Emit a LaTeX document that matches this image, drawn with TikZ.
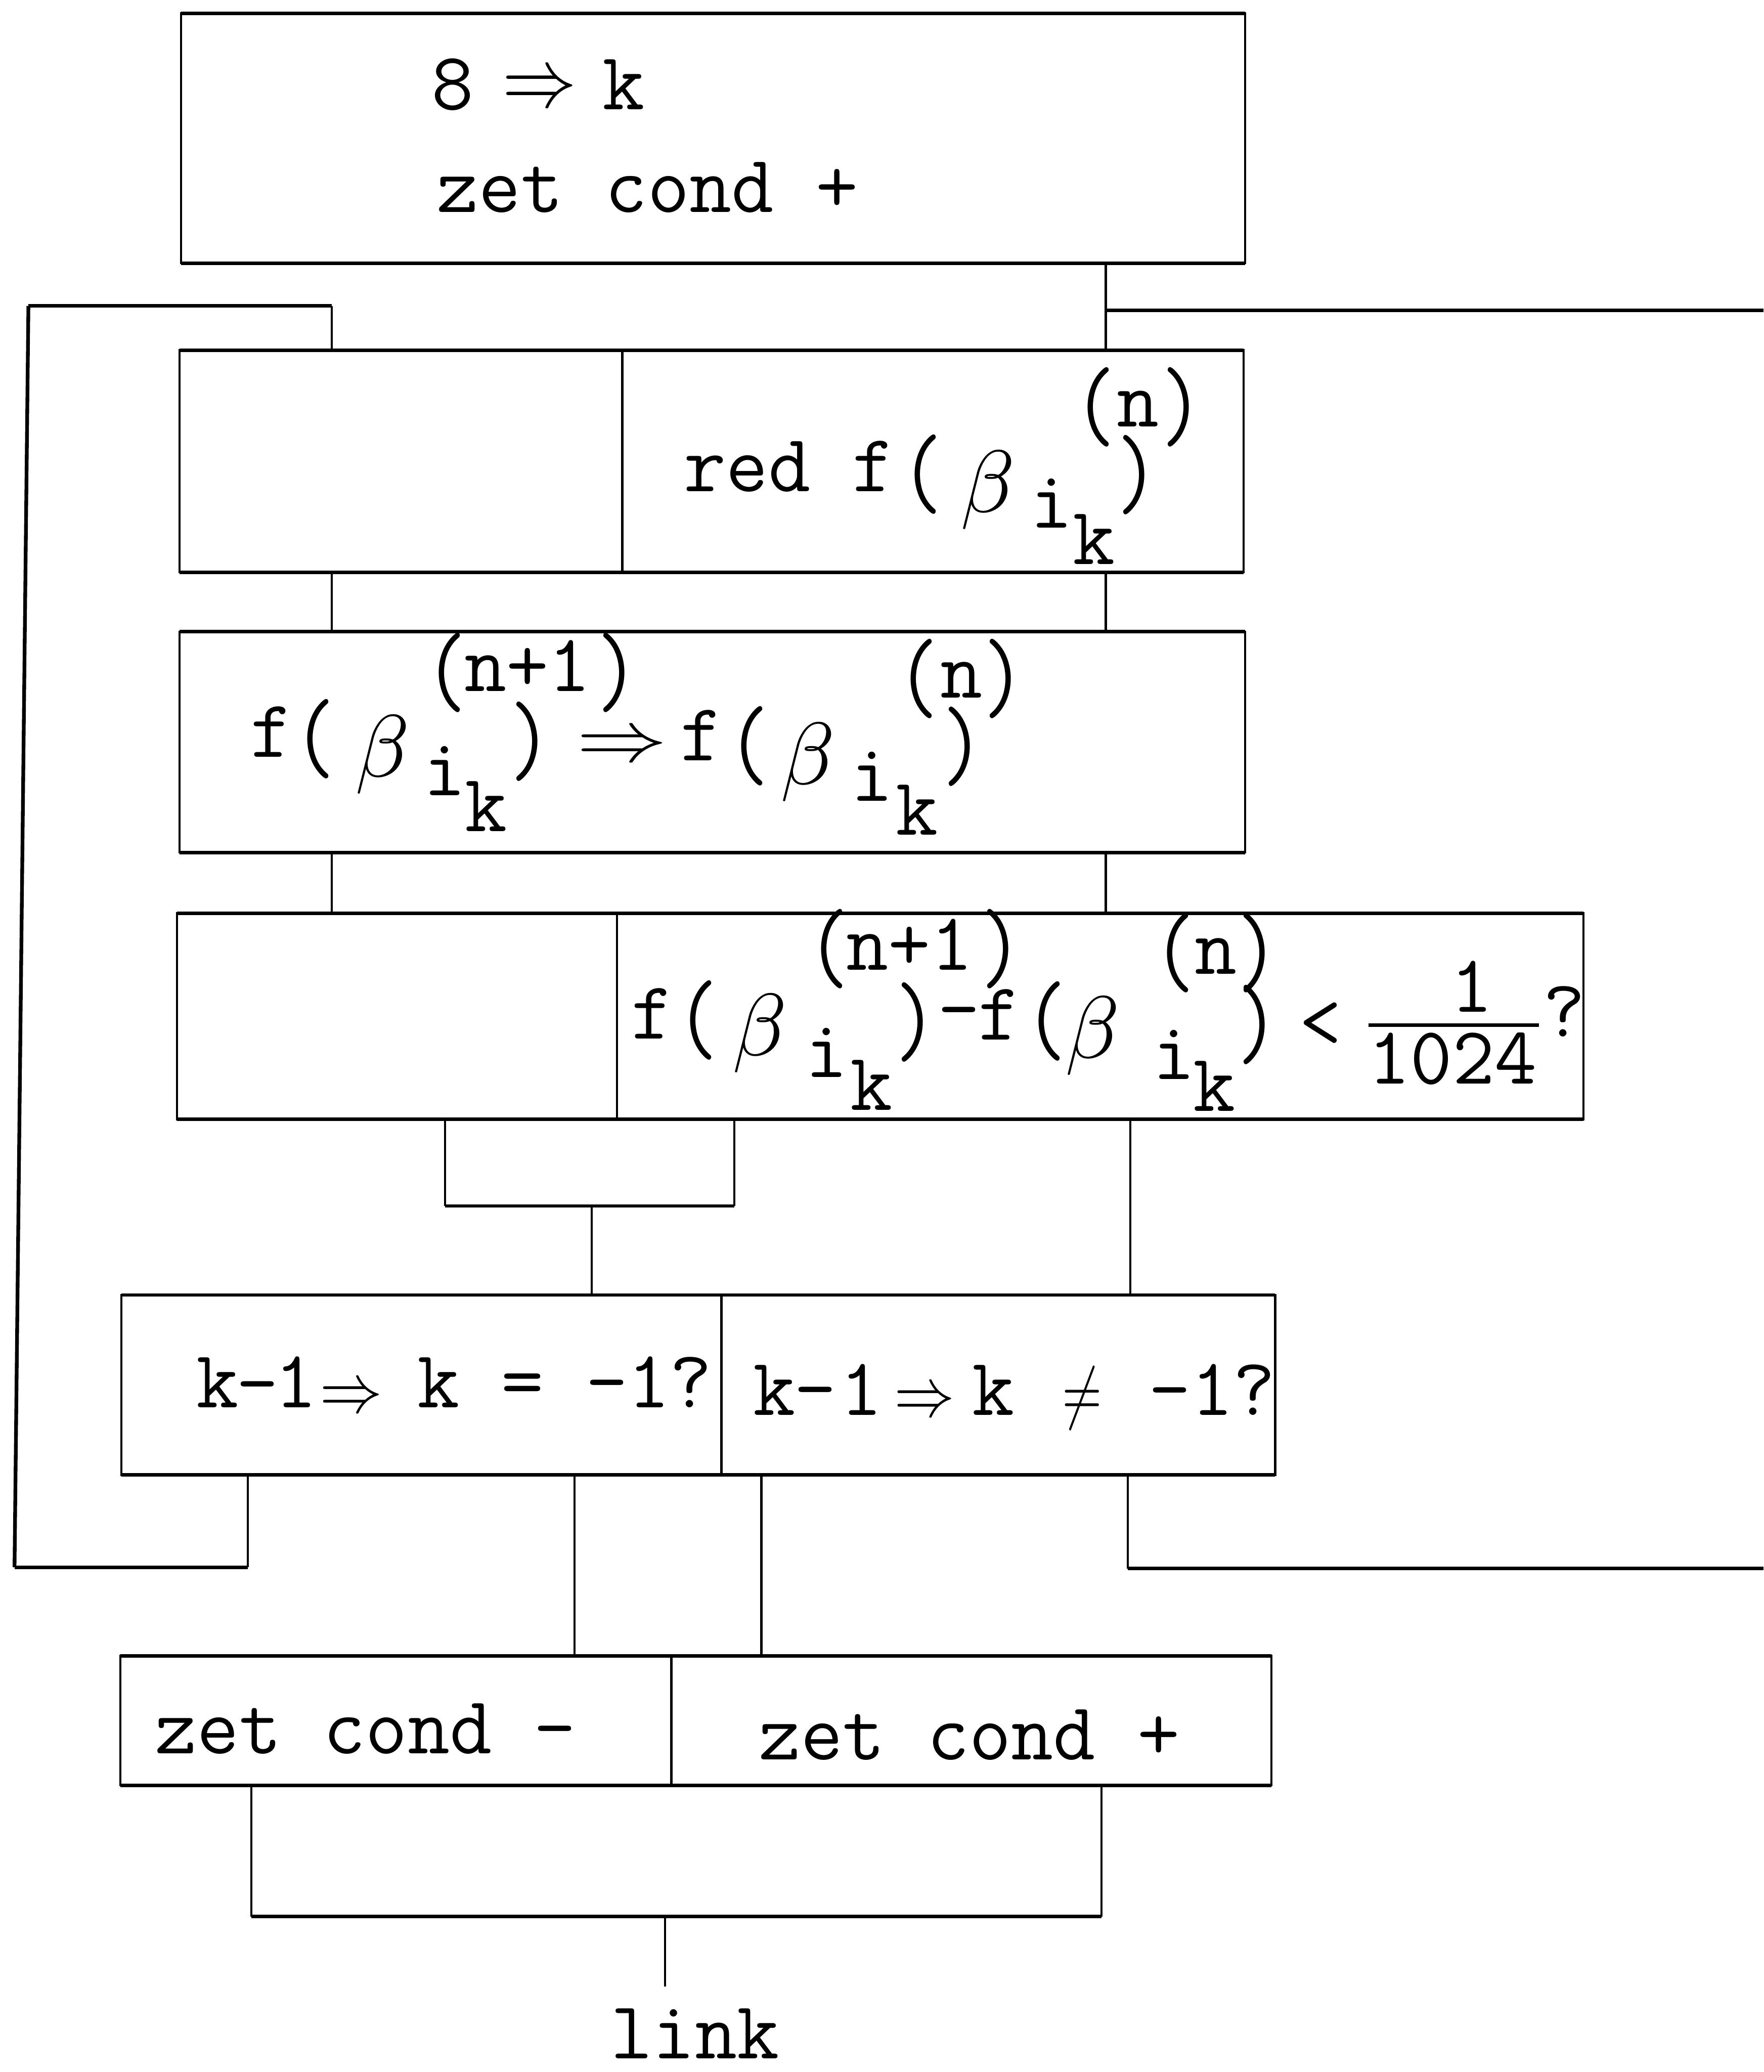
\documentclass[tikz,border=0pt]{standalone}
\usepackage{fontspec}
\usepackage{graphicx}
\newcommand\tws{\ttfamily\fontsize{17.6}{20}\selectfont}
% one glyph or word, placed at a point and named automatically
\newcounter{gl}
\newcommand\gl[3][]{\stepcounter{gl}\node[tw,#1] (g\arabic{gl}) at (#2) {#3};}
% tall typewriter parentheses
\newcommand\tlp{\scalebox{1}[1.25]{(}}
\newcommand\trp{\scalebox{1}[1.25]{)}}
\newcommand\bet{\scalebox{1.9}{$\beta$}}
\newcommand\darr[2]{\scalebox{#1}[#2]{$\Rightarrow$}}

\begin{document}
\begin{tikzpicture}[x=0.01cm,y=-0.01cm,
  tw/.style={font=\tws, inner sep=0pt, outer sep=0pt, anchor=base},
  pc/.style={anchor=center},
  mth/.style={font=\normalsize, anchor=center},
  box/.style={draw, line width=0.45pt, inner sep=0pt, outer sep=0pt, anchor=north west},
  hl/.style={line width=0.75pt},
  vl/.style={line width=0.45pt},
  loopl/.style={line width=0.8pt}]
\useasboundingbox (0,0) rectangle (1335,1568);

% ---- boxes ----
\node[box, minimum width=8.05cm, minimum height=1.89cm] (b1)  at (137,10)  {};
\node[box, minimum width=3.35cm, minimum height=1.68cm] (b2l) at (136,265) {};
\node[box, minimum width=4.70cm, minimum height=1.68cm] (b2r) at (471,265) {};
\node[box, minimum width=8.06cm, minimum height=1.67cm] (b3)  at (136,478) {};
\node[box, minimum width=3.33cm, minimum height=1.56cm] (b4l) at (134,691) {};
\node[box, minimum width=7.31cm, minimum height=1.56cm] (b4r) at (467,691) {};
\node[box, minimum width=4.54cm, minimum height=1.36cm] (b5l) at (92,980)  {};
\node[box, minimum width=4.19cm, minimum height=1.36cm] (b5r) at (546,980) {};
\node[box, minimum width=4.17cm, minimum height=0.98cm] (b6l) at (91,1253) {};
\node[box, minimum width=4.54cm, minimum height=0.98cm] (b6r) at (508,1253) {};

% heavier horizontal edges
\foreach \a/\b in {b1/b1, b2l/b2r, b3/b3, b4l/b4r, b5l/b5r, b6l/b6r} {
  \draw[hl] (\a.north west) -- (\b.north east);
  \draw[hl] (\a.south west) -- (\b.south east);
}

% ---- connectors ----
\coordinate (xA) at (251,0);
\coordinate (xB) at (837,0);
\coordinate (xC) at (855.6,0);
\coordinate (xD) at (187.5,0);
\coordinate (xE) at (853.6,0);
\coordinate (xF) at (435,0);
\coordinate (xG) at (576.3,0);
\coordinate (u1) at (337,912.6);
\coordinate (u2) at (556,912.6);
\coordinate (um) at (448,912.6);
\coordinate (lt) at (21.5,231.5);
\coordinate (lb) at (11,1186);
\coordinate (rt) at (1335,235);
\coordinate (rb) at (1335,1187);
\coordinate (j1) at (190.3,1450.4);
\coordinate (j2) at (833.7,1450.4);
\coordinate (jm) at (503.4,1450.4);
\coordinate (lk) at (503.4,1503.2);

\draw[vl] (b1.south -| xB) -- (b2r.north -| xB);
\draw[hl] (xB |- rt) -- (rt);
\draw[vl] (b2l.south -| xA) -- (b3.north -| xA);
\draw[vl] (b2r.south -| xB) -- (b3.north -| xB);
\draw[vl] (b3.south -| xA) -- (b4l.north -| xA);
\draw[vl] (b3.south -| xB) -- (b4r.north -| xB);

\draw[vl] (b4l.south -| u1) -- (u1);
\draw[vl] (b4r.south -| u2) -- (u2);
\draw[hl] (u1) -- (u2);
\draw[vl] (um) -- (b5l.north -| um);
\draw[vl] (b4r.south -| xC) -- (b5r.north -| xC);

% return path on the left
\draw[vl] (b5l.south -| xD) -- (xD |- lb);
\draw[hl] (xD |- lb) -- (lb);
\draw[loopl] (lb) -- (lt);
\draw[hl] (lt) -- (xA |- lt);
\draw[vl] (xA |- lt) -- (b2l.north -| xA);

% exit to the right
\draw[vl] (b5r.south -| xE) -- (xE |- rb);
\draw[hl] (xE |- rb) -- (rb);

\draw[vl] (b5l.south -| xF) -- (b6l.north -| xF);
\draw[vl] (b5r.south -| xG) -- (b6r.north -| xG);

\draw[vl] (b6l.south -| j1) -- (j1);
\draw[vl] (b6r.south -| j2) -- (j2);
\draw[hl] (j1) -- (j2);
\draw[vl] (jm) -- (lk);

% ---- texts ----
% box 1
\gl{342.5,83}{8}
\gl[mth]{408.5,69}{\darr{1.6}{1.8}}
\gl{472,83}{k}
\gl{490,160.6}{zet cond +}

% box 2
\gl{597.5,372}{red f}
\gl[pc]{698,359}{\tlp}
\gl[mth]{748,371}{\bet}
\gl{796,399.5}{i}
\gl{828,427}{k}
\gl[pc]{861,359.5}{\trp}
\gl[pc]{829,308}{\tlp}
\gl{861.5,322.8}{n}
\gl[pc]{894.5,308}{\trp}

% box 3
\gl{205.5,573}{f}
\gl[pc]{238,559}{\tlp}
\gl[mth]{289.5,571}{\bet}
\gl{336.6,602}{i}
\gl{368,629}{k}
\gl[pc]{401.5,561}{\trp}
\gl[pc]{337.7,509}{\tlp}
\gl{399.4,523.2}{n+1}
\gl[pc]{467.6,509}{\trp}
\gl[mth]{471,566}{\darr{1.95}{1.55}}
\gl{531,575.5}{f}
\gl[pc]{566.5,564.6}{\tlp}
\gl[mth]{611.5,577}{\bet}
\gl{660,606}{i}
\gl{694,632}{k}
\gl[pc]{729,565}{\trp}
\gl[pc]{695,513.5}{\tlp}
\gl{727.7,527.9}{n}
\gl[pc]{760,513.5}{\trp}

% box 4
\gl{494,786}{f}
\gl[pc]{528,772}{\tlp}
\gl[mth]{575,782}{\bet}
\gl{625.6,815}{i}
\gl{659.6,840}{k}
\gl[pc]{693.5,773.7}{\trp}
\gl[pc]{726,772.6}{-}
\gl{756.5,787}{f}
\gl[pc]{791.7,772.7}{\tlp}
\gl[mth]{827,784}{\bet}
\gl{888.7,816.7}{i}
\gl{919,841}{k}
\gl[pc]{952,775.6}{\trp}
\gl[pc]{627,718}{\tlp}
\gl{688.5,734}{n+1}
\gl[pc]{758,718}{\trp}
\gl[pc]{888.8,721}{\tlp}
\gl{920.4,737}{n}
\gl[pc]{952,721}{\trp}
\gl[pc]{999.5,776}{<}
\gl{1114,765.7}{1}
\coordinate (fb1) at (1036,775.7);
\coordinate (fb2) at (1165,775.7);
\draw[hl] (fb1) -- (fb2);
\gl{1099.5,820}{1024}
\gl[pc]{1184,765.5}{?}

% box 5
\gl{164.6,1065}{k}
\gl[pc]{195,1056}{-}
\gl{224,1065}{1}
\gl[mth]{266,1059}{\darr{1.35}{1.5}}
\gl{427.5,1065}{k = -1?}
\gl{586,1071}{k}
\gl[pc]{617,1060}{-}
\gl{652,1071}{1}
\gl[mth]{700,1062}{\darr{1.3}{1.5}}
\gl{752,1071}{k}
\gl[mth]{819,1058}{\scalebox{1.1}[1.5]{$\neq$}}
\gl{917.5,1071}{-1?}

% box 6
\gl{276.75,1327}{zet cond -}
\gl{733.6,1331.5}{zet cond +}

% exit label
\gl{526,1558}{link}
\end{tikzpicture}
\end{document}
